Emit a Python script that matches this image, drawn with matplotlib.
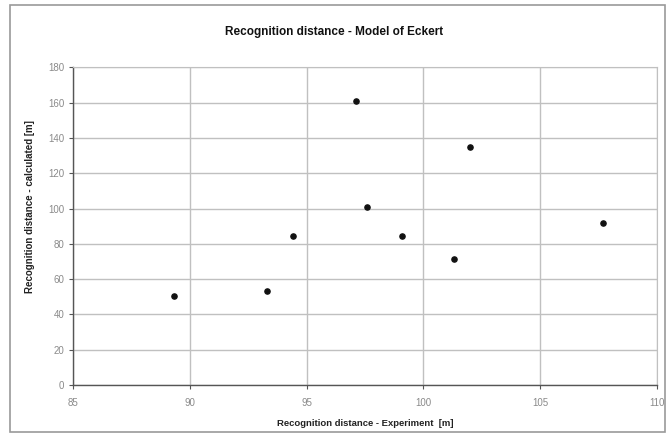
import matplotlib
matplotlib.use("Agg")
import matplotlib.pyplot as plt
from matplotlib.patches import Rectangle

# Experimental vs. calculated recognition distance (Eckert model)
experiment_m = [89.3, 93.3, 94.4, 97.1, 97.6, 99.1, 101.3, 102.0, 107.7]
calculated_m = [50.4, 53.5, 84.6, 161.2, 100.7, 84.6, 71.6, 135.1, 92.0]

x_ticks = [85, 90, 95, 100, 105, 110]
y_ticks = [0, 20, 40, 60, 80, 100, 120, 140, 160, 180]

W, H = 669, 441
fig = plt.figure(figsize=(W / 100, H / 100), dpi=100)
plt.rcParams['font.family'] = ['Liberation Sans', 'DejaVu Sans']

# outer chart frame
fig.patches.append(Rectangle((10 / W, 1 - 432 / H), 655 / W, 427 / H,
                             transform=fig.transFigure, fill=False,
                             edgecolor='#9a9a9a', linewidth=1.2))

ax = fig.add_axes([73.3 / W, 1 - 385 / H, (656.7 - 73.3) / W, (385 - 67.4) / H])
ax.set_xlim(85, 110)
ax.set_ylim(0, 180)
ax.set_xticks(x_ticks)
ax.set_yticks(y_ticks)

ax.grid(True, color='#c0c0c0', linewidth=1.0)
ax.set_axisbelow(True)

for side in ('top', 'right'):
    ax.spines[side].set_color('#c0c0c0')
for side in ('left', 'bottom'):
    ax.spines[side].set_color('#555555')
    ax.spines[side].set_linewidth(1.0)

ax.tick_params(axis='both', labelsize=7, labelcolor='#8a8a8a', color='#555555',
               length=3, direction='out')
ax.tick_params(axis='x', pad=6)

ax.scatter(experiment_m, calculated_m, s=14, color='#111111', zorder=3)

ax.set_xlabel('Recognition distance - Experiment  [m]', fontsize=6.8,
              fontweight='bold', color='#222222')
ax.xaxis.set_label_coords(0.5, -(419 - 385) / (385 - 67.4))
ax.set_ylabel('Recognition distance - calculated [m]', fontsize=7,
              fontweight='bold', color='#222222')
ax.yaxis.set_label_coords(-(73.3 - 35) / (656.7 - 73.3), (385 - 207) / (385 - 67.4))
fig.text(0.5, 1 - 32 / H, 'Recognition distance - Model of Eckert', ha='center',
         va='center', fontsize=8.5, fontweight='bold', color='#111111')

fig.savefig('out.png', dpi=100)
